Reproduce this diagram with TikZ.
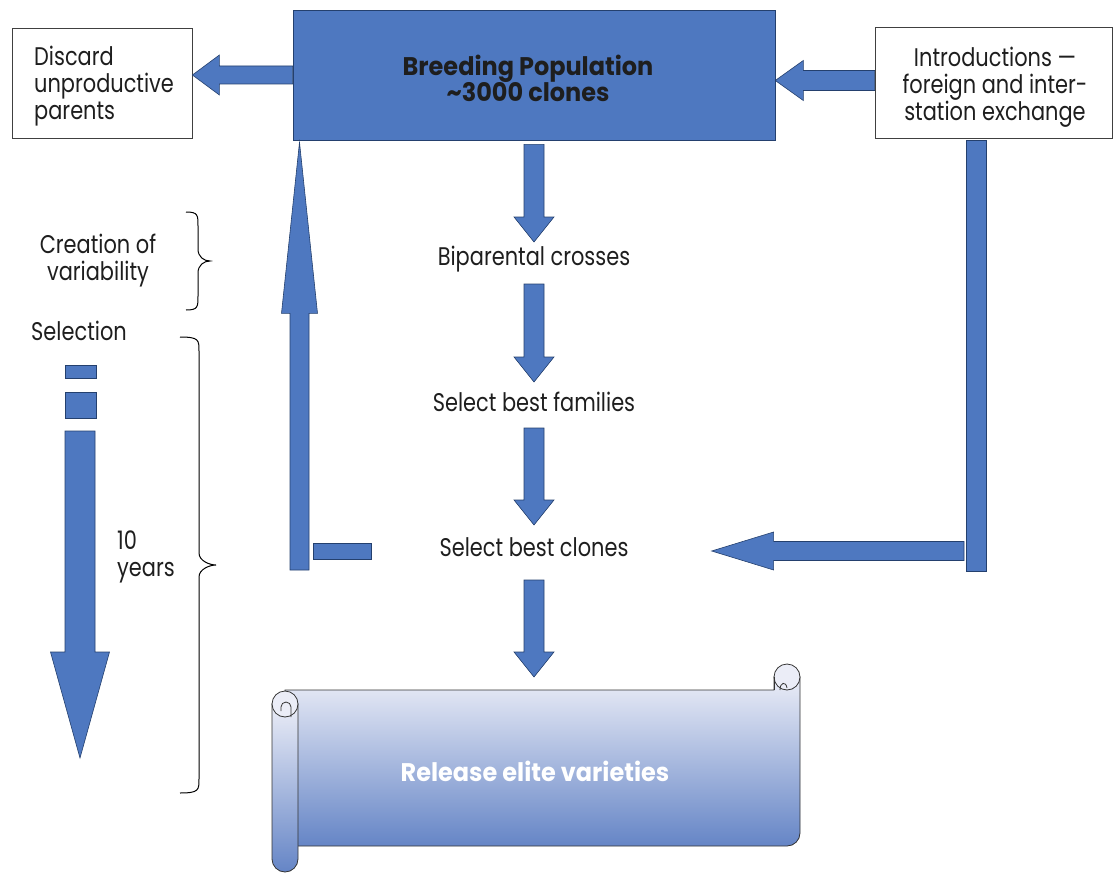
\documentclass[tikz,border=0pt]{standalone}
\usepackage{fontspec}
\setmainfont{Poppins}[FakeStretch=0.82]
\newfontfamily\heavyfont{Poppins}[FakeStretch=0.94]
\usetikzlibrary{calc}
\definecolor{bfill}{HTML}{4E78C0}
\definecolor{bline}{HTML}{24406E}
\definecolor{txt}{HTML}{1E1E1E}
\definecolor{scrtop}{HTML}{EBEDF7}
\definecolor{scrbot}{HTML}{6585C6}
\tikzset{
  barrow/.style={fill=bfill, draw=bline, line width=0.6pt, line join=miter},
  bbar/.style={fill=bfill, draw=bline, line width=0.6pt},
  wbox/.style={draw=black!75, line width=0.8pt, fill=white, inner sep=0pt},
  lbl/.style={font=\fontsize{25.5}{27}\selectfont, text=txt, inner sep=0pt},
  heavylbl/.style={font=\heavyfont\bfseries\fontsize{25.5}{27}\selectfont, inner sep=0pt},
  bracestyle/.style={draw=black, line width=1pt},
  scrollline/.style={draw=black!80, line width=0.8pt}
}
% block arrows: #1 start, #2 tip, #3 shaft half width, #4 head half width, #5 head length
\newcommand\arrDown[5]{\draw[barrow] ($(#1)+(-#3,0)$) -- ($(#1|-#2)+(-#3,-#5)$) -- ($(#1|-#2)+(-#4,-#5)$) -- (#1|-#2) -- ($(#1|-#2)+(#4,-#5)$) -- ($(#1|-#2)+(#3,-#5)$) -- ($(#1)+(#3,0)$) -- cycle;}
\newcommand\arrUp[5]{\draw[barrow] ($(#1)+(-#3,0)$) -- ($(#1|-#2)+(-#3,#5)$) -- ($(#1|-#2)+(-#4,#5)$) -- (#1|-#2) -- ($(#1|-#2)+(#4,#5)$) -- ($(#1|-#2)+(#3,#5)$) -- ($(#1)+(#3,0)$) -- cycle;}
\newcommand\arrLeft[5]{\draw[barrow] ($(#1)+(0,-#3)$) -- ($(#2|-#1)+(#5,-#3)$) -- ($(#2|-#1)+(#5,-#4)$) -- (#2|-#1) -- ($(#2|-#1)+(#5,#4)$) -- ($(#2|-#1)+(#5,#3)$) -- ($(#1)+(0,#3)$) -- cycle;}
% curly brace: #1 x end, #2 x line, #3 x tip, #4 y top, #5 y mid, #6 y bottom
\newcommand\curly[6]{\draw[bracestyle] ({#1},{#4}) .. controls ({#2},{#4}) and ({#2},{#4+3}) .. ({#2},{#4+14}) -- ({#2},{#5-12}) .. controls ({#2},{#5-4}) and ({#3-6},{#5}) .. ({#3},{#5}) .. controls ({#3-6},{#5}) and ({#2},{#5+4}) .. ({#2},{#5+12}) -- ({#2},{#6-14}) .. controls ({#2},{#6-3}) and ({#2},{#6}) .. ({#1},{#6});}
\begin{document}
\begin{tikzpicture}[x=1pt,y=-1pt]
\useasboundingbox (0,0) rectangle (1114,875);

% top row boxes (base anchor = baseline of the last line)
\node[wbox, minimum width=180pt, minimum height=110pt] (discard) at (102,83) {};
\node[lbl, anchor=base west, align=left] (discardtxt) at (34,119) {Discard\\unproductive\\parents};
\node[draw=bline, fill=bfill, line width=0.6pt, minimum width=482pt, minimum height=130pt, inner sep=0pt] (breed) at (534,75) {};
\node[heavylbl, text=txt, anchor=base, align=center] (breedtxt) at (528,102) {Breeding Population\\\textasciitilde3000 clones};
\node[wbox, minimum width=237pt, minimum height=111pt] (intro) at (993.5,82.5) {};
\node[lbl, anchor=base, align=center] (introtxt) at (995,120) {Introductions —\\foreign and inter-\\station exchange};

% arrows at top
\arrLeft{breed.west}{discard.east}{9}{20}{27}
\coordinate (i0) at ($(intro.west)+(0,-2)$);
\arrLeft{i0}{breed.east}{10}{20}{28}

% centre column labels
\node[lbl, anchor=base] (bip) at (534,265) {Biparental crosses};
\node[lbl, anchor=base] (fam) at (534,411) {Select best families};
\node[lbl, anchor=base] (clones) at (534,556) {Select best clones};

% scroll (release)
\coordinate (scrolltop) at (535,690);
\path[shade, top color=scrtop, bottom color=scrbot, scrollline] (285,690) -- (774,690) -- (774,677) -- (800,677) -- (800,833) arc[start angle=0, end angle=90, radius=13] -- (285,846) -- cycle;
\draw[scrollline, fill=scrtop] (787,677) circle[radius=13];
\draw[scrollline] (774,677) -- (774,690);
\draw[scrollline] (780,690) .. controls (780,682) and (786,681) .. (787,688);
\path[shade, top color=scrtop, bottom color=scrbot, scrollline] (272,704) -- (272,859) arc[start angle=180, end angle=0, radius=13] -- (298,704) -- cycle;
\draw[scrollline, fill=scrtop] (285,704) circle[radius=13];
\draw[scrollline] (291,717) -- (291,707) arc[start angle=0, end angle=-180, radius=5] -- (281,711);
\node[heavylbl, text=white] (release) at (535,771) {Release elite varieties};

% centre arrows
\coordinate (a1s) at ($(breed.south)+(0,4)$);
\coordinate (a1t) at ($(bip.base)+(0,-23)$);
\arrDown{a1s}{a1t}{10}{20}{25}
\coordinate (a2s) at ($(bip.base)+(0,19)$);
\coordinate (a2t) at ($(fam.base)+(0,-29)$);
\arrDown{a2s}{a2t}{10}{20}{25}
\coordinate (a3s) at ($(fam.base)+(0,17)$);
\coordinate (a3t) at ($(clones.base)+(0,-31)$);
\arrDown{a3s}{a3t}{10}{20}{25}
\coordinate (a4s) at ($(clones.base)+(0,24)$);
\coordinate (a4t) at ($(scrolltop)+(0,-13)$);
\arrDown{a4s}{a4t}{10}{20}{25}

% right feedback from introductions
\draw[bbar] ($(intro.south west)+(92,2)$) rectangle (986,571);
\coordinate (rh) at (964,551);
\coordinate (rt) at ($(clones.east)+(83,0)$);
\arrLeft{rh}{rt}{9.5}{19}{62}

% left feedback to breeding population
\coordinate (ups) at (299.5,570);
\coordinate (upt) at ($(breed.south west)+(6.5,2)$);
\arrUp{ups}{upt}{9.5}{18}{171}
\draw[bbar] (313,543) rectangle (371,559);

% left time line
\node[lbl, anchor=base, align=center] (creation) at (98,280) {Creation of\\variability};
\node[lbl, anchor=base] (selection) at (79,340) {Selection};
\node[lbl, anchor=base west, align=left] (tenyears) at (117,576) {10\\years};
\draw[bbar] (65,365) rectangle (96,378);
\draw[bbar] (65,392) rectangle (96,418);
\coordinate (ts) at (80,431);
\coordinate (tt) at (80,758);
\arrDown{ts}{tt}{15}{29.5}{106}

% braces
\curly{186}{198}{210}{212}{261}{310}
\curly{180}{199}{216}{337}{565}{793}
\end{tikzpicture}
\end{document}
